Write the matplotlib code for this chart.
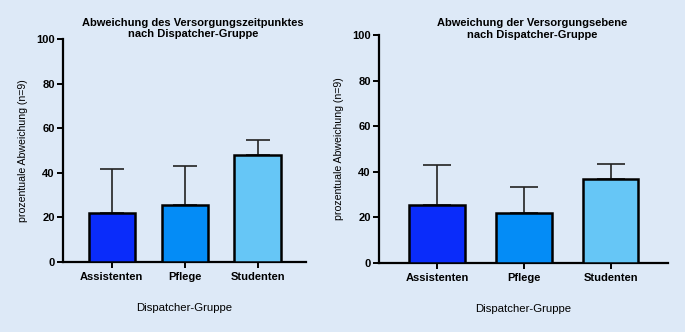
import matplotlib.pyplot as plt
import numpy as np

plt.rcParams['font.family'] = ['Liberation Sans', 'DejaVu Sans']

# Daten
gruppen = ['Assistenten', 'Pflege', 'Studenten']
farben = ['#0a2cfa', '#048cf6', '#66c6f6']

zeit_mittel = [22.0, 25.6, 48.0]
zeit_fehler = [19.5, 17.4, 6.5]

ebene_mittel = [25.6, 22.0, 36.7]
ebene_fehler = [17.3, 11.2, 6.7]

bg = '#dde9f7'

fig = plt.figure(figsize=(6.85, 3.32), dpi=100, facecolor=bg)

W, H = 685, 332


def panel(rect, mittel, fehler, titel, cap, title_y):
    x0, y0, x1, y1 = rect
    ax = fig.add_axes([x0 / W, 1 - y1 / H, (x1 - x0) / W, (y1 - y0) / H])
    ax.set_facecolor(bg)
    x = np.arange(len(gruppen))
    ax.bar(x, mittel, width=0.64, color=farben, edgecolor='black',
           linewidth=1.8, zorder=3)
    ax.errorbar(x, mittel, yerr=[np.zeros(len(fehler)), fehler], fmt='none',
                ecolor='#222222', elinewidth=1.2, capsize=cap, capthick=1.2,
                zorder=2)
    ax.set_xlim(-0.67, 2.66)
    ax.set_ylim(0, 100)
    ax.set_yticks([0, 20, 40, 60, 80, 100])
    ax.set_xticks(x)
    ax.set_xticklabels(gruppen, fontsize=8, fontweight='bold')
    for t in ax.get_yticklabels():
        t.set_fontsize(8)
        t.set_fontweight('bold')
    ax.spines['top'].set_visible(False)
    ax.spines['right'].set_visible(False)
    ax.spines['left'].set_linewidth(1.6)
    ax.spines['bottom'].set_linewidth(1.6)
    ax.tick_params(axis='both', width=1.4, length=4, pad=2)
    ax.tick_params(axis='x', pad=3)
    ax.set_xlabel('Dispatcher-Gruppe', fontsize=8.2, labelpad=15)
    ax.set_ylabel('prozentuale Abweichung (n=9)', fontsize=7.6, labelpad=6)
    fig.text((x0 + x1) / 2 / W + 0.012, 1 - title_y / H, titel, ha='center',
             va='center', fontsize=8, fontweight='bold', linespacing=1.2)
    return ax


panel((63, 39, 306, 262), zeit_mittel, zeit_fehler,
      'Abweichung des Versorgungszeitpunktes\nnach Dispatcher-Gruppe', 8.6, 28.5)
panel((379, 35, 668, 263), ebene_mittel, ebene_fehler,
      'Abweichung der Versorgungsebene\nnach Dispatcher-Gruppe', 10, 29)

fig.savefig('out.png', dpi=100, facecolor=bg)
